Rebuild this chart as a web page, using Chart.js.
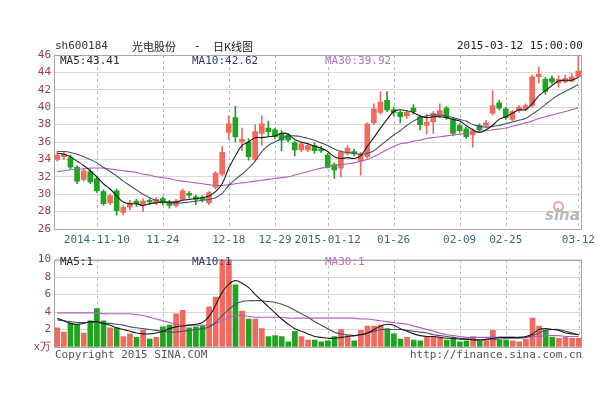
<!DOCTYPE html>
<html>
<head>
<meta charset="utf-8">
<script src="https://cdn.jsdelivr.net/npm/chart.js@4.4.1/dist/chart.umd.min.js"></script>
<style>
  html, body { margin: 0; padding: 0; background: #fff; }
  #wrap { position: relative; width: 600px; height: 400px; overflow: hidden; background: #fff; }
  canvas { position: absolute; left: 0; }
  .t { position: absolute; white-space: nowrap; font: 11px "DejaVu Sans Mono", monospace; line-height: 12px; color: #333; }
  .cjk { font-family: "Noto Sans CJK SC", sans-serif; font-size: 11px; }
</style>
</head>
<body>
<div id="wrap">
  <canvas id="kline" width="600" height="250" style="top:0"></canvas>
  <canvas id="vol" width="600" height="150" style="top:250px"></canvas>

  <div class="t" style="left:55px;top:40px;color:#333">sh600184</div>
  <div class="t cjk" style="left:132px;top:39px;color:#222;line-height:14px">光电股份</div>
  <div class="t" style="left:194px;top:40px;color:#222">-</div>
  <div class="t cjk" style="left:213px;top:39px;color:#222;line-height:14px">日K线图</div>
  <div class="t" style="left:457px;top:40px;color:#222">2015-03-12 15:00:00</div>

  <div class="t" id="lgP5"  style="left:60px;top:55px;color:#2a2a2a"></div>
  <div class="t" id="lgP10" style="left:192px;top:55px;color:#2b3d6b"></div>
  <div class="t" id="lgP30" style="left:325px;top:55px;color:#b070c4"></div>

  <div class="t" id="lgV5"  style="left:60px;top:256px;color:#2a2a2a"></div>
  <div class="t" id="lgV10" style="left:192px;top:256px;color:#2b3d6b"></div>
  <div class="t" id="lgV30" style="left:325px;top:256px;color:#b070c4"></div>

  <div class="t" style="left:55px;top:349px;color:#555">Copyright 2015 SINA.COM</div>
  <div class="t" style="left:410px;top:349px;color:#555">http://finance.sina.com.cn</div>

  <div style="position:absolute;left:553px;top:201px;width:7px;height:7px;border:2px solid #e3a998;border-radius:50%"></div>
  <div class="t" style="left:545px;top:207px;font:italic bold 15px 'DejaVu Sans',sans-serif;line-height:16px;color:#b9b9b9">sina</div>
</div>

<script>
// Trading days shown on the daily K-line (stock suspended 2014-12-08 .. 12-17)
const dates = [
  '2014-10-31','2014-11-03','2014-11-04','2014-11-05','2014-11-06','2014-11-07',
  '2014-11-10','2014-11-11','2014-11-12','2014-11-13','2014-11-14',
  '2014-11-17','2014-11-18','2014-11-19','2014-11-20','2014-11-21',
  '2014-11-24','2014-11-25','2014-11-26','2014-11-27','2014-11-28',
  '2014-12-01','2014-12-02','2014-12-03','2014-12-04','2014-12-05',
  '2014-12-18','2014-12-19','2014-12-22','2014-12-23','2014-12-24','2014-12-25','2014-12-26',
  '2014-12-29','2014-12-30','2014-12-31',
  '2015-01-05','2015-01-06','2015-01-07','2015-01-08','2015-01-09',
  '2015-01-12','2015-01-13','2015-01-14','2015-01-15','2015-01-16',
  '2015-01-19','2015-01-20','2015-01-21','2015-01-22','2015-01-23',
  '2015-01-26','2015-01-27','2015-01-28','2015-01-29','2015-01-30',
  '2015-02-02','2015-02-03','2015-02-04','2015-02-05','2015-02-06',
  '2015-02-09','2015-02-10','2015-02-11','2015-02-12','2015-02-13',
  '2015-02-16','2015-02-17','2015-02-25','2015-02-26','2015-02-27',
  '2015-03-02','2015-03-03','2015-03-04','2015-03-05','2015-03-06',
  '2015-03-09','2015-03-10','2015-03-11','2015-03-12'
];

// Dates that get an axis label, and the text printed for each
const tickDates = ['2014-11-10','2014-11-24','2014-12-18','2014-12-29','2015-01-12','2015-01-26','2015-02-09','2015-02-25','2015-03-12'];
const tickText  = ['2014-11-10','11-24','12-18','12-29','2015-01-12','01-26','02-09','02-25','03-12'];

const opens = [34.0,34.3,34.2,33.1,31.7,32.6,31.8,30.3,29.0,30.4, 27.9,28.5,29.2,28.8,29.3,29.0,29.5,29.1,28.7,29.4,
               30.1,29.7,29.6,29.0,30.8,32.3,37.1,38.8,36.0,36.0, 34.0,37.0,37.6,37.4,37.0,36.8,35.9,35.1,35.1,35.6,
               35.2,34.5,33.4,33.0,34.7,34.9,33.8,34.3,38.2,39.4, 40.8,39.7,39.4,39.0,39.9,38.9,37.9,38.3,39.0,39.9,
               38.6,37.9,37.5,36.8,37.9,37.9,39.3,40.5,39.8,38.6, 39.6,39.8,40.2,43.5,43.2,43.3,42.8,42.9,43.0,43.5];
const highs = [34.9,34.9,34.5,33.3,33.0,32.8,32.0,30.5,30.0,30.6, 28.7,29.3,29.4,29.5,29.5,29.6,29.7,29.3,29.4,30.6,
               30.3,29.9,29.8,30.3,32.6,35.5,39.0,40.1,37.6,36.4, 38.0,39.0,38.4,37.6,37.3,37.0,36.1,36.0,35.9,35.9,
               35.5,34.7,33.6,35.0,35.6,35.2,34.8,38.2,40.4,41.8, 41.8,40.0,39.6,39.6,40.3,39.1,39.2,39.5,40.4,40.1,
               38.8,38.1,37.7,37.5,38.1,38.5,41.9,40.8,40.0,39.6, 40.2,40.4,43.7,44.6,43.4,43.6,43.6,43.7,43.9,45.9];
const lows  = [33.8,34.0,32.9,31.2,31.5,31.2,30.2,28.7,28.8,27.6, 27.6,28.2,28.6,28.0,28.8,28.8,28.8,28.4,28.5,29.3,
               29.6,28.8,29.1,28.8,30.6,32.1,36.3,36.0,35.0,33.9, 33.8,35.6,36.6,36.4,35.0,36.0,34.4,34.9,34.9,34.7,
               34.8,33.0,31.8,32.0,34.5,34.4,32.2,34.1,38.0,39.2, 39.5,39.0,38.2,38.7,39.2,37.4,36.9,37.0,38.8,38.6,
               36.7,37.1,36.4,35.4,37.2,37.7,39.1,39.7,38.6,38.4, 39.4,39.6,40.0,42.8,41.5,42.7,42.3,42.8,42.9,43.4];
const closes = [34.5,34.6,33.1,31.5,32.7,31.4,30.4,28.9,29.8,28.1, 28.5,29.0,28.9,29.2,29.1,29.4,29.0,28.7,29.2,30.4,
               29.9,29.4,29.4,30.2,32.4,34.8,38.1,36.6,36.3,34.3, 37.2,38.1,37.2,36.6,36.2,36.2,35.1,35.8,35.6,35.0,
               35.0,33.1,32.8,34.8,35.3,34.7,34.6,38.1,39.8,40.6, 39.7,39.4,38.9,39.4,39.5,38.0,38.3,39.3,39.6,38.8,
               37.0,37.3,36.6,37.3,37.4,38.2,40.2,39.9,38.8,39.5, 40.0,40.2,43.5,43.8,41.8,42.9,43.2,43.3,43.5,44.15];

const ma5  = [34.7,34.6,34.3,33.8,33.3,32.7,32.0,31.2,30.6,29.8, 29.1,28.9,28.9,28.7,28.9,29.0,29.1,29.1,29.1,29.3,
              29.4,29.5,29.6,29.8,30.3,31.2,33.0,34.4,35.6,36.0, 36.5,36.5,36.6,36.7,37.0,36.9,36.3,36.0,35.8,35.5,
              35.3,34.9,34.3,34.1,34.2,34.1,34.4,35.5,36.5,37.6, 38.6,39.5,39.7,39.6,39.4,39.0,38.8,38.9,38.9,38.8,
              38.6,38.4,37.9,37.4,37.1,37.4,37.9,38.6,38.9,39.3, 39.7,39.7,40.4,41.3,41.9,42.5,43.0,43.1,43.1,43.41];
const ma10 = [34.9,34.9,34.8,34.6,34.3,34.0,33.6,33.1,32.6,32.1, 31.5,31.0,30.5,30.0,29.6,29.3,29.1,29.0,29.0,29.0,
              29.1,29.2,29.3,29.4,29.6,30.1,31.0,31.7,32.3,33.0, 33.8,34.9,35.6,36.0,36.4,36.7,36.7,36.6,36.4,36.2,
              35.9,35.6,35.2,34.9,34.8,34.7,34.6,34.7,35.0,35.6, 36.2,36.8,37.3,37.9,38.4,38.8,39.0,39.1,39.1,39.0,
              38.8,38.6,38.4,38.0,37.8,37.7,37.8,37.9,38.1,38.3, 38.5,38.7,39.2,39.7,40.3,40.9,41.4,41.8,42.2,42.62];
const ma30 = [32.6,32.7,32.8,32.9,32.9,33.0,33.0,33.0,32.9,32.8, 32.7,32.6,32.5,32.3,32.2,32.0,31.9,31.8,31.6,31.5,
              31.4,31.3,31.2,31.1,31.0,31.0,31.1,31.2,31.3,31.4, 31.5,31.6,31.7,31.8,31.9,32.0,32.2,32.4,32.6,32.8,
              33.0,33.1,33.3,33.4,33.5,33.6,33.8,34.0,34.3,34.7, 35.1,35.5,35.8,35.9,36.1,36.2,36.4,36.5,36.6,36.7,
              36.8,36.9,37.0,37.1,37.2,37.3,37.4,37.5,37.6,37.8, 38.0,38.2,38.4,38.7,38.9,39.1,39.3,39.5,39.7,39.92];

// Daily volume (x 万 lots) and its moving averages
const volume = [2.2,1.7,2.7,2.6,1.6,3.0,4.4,3.0,2.2,2.2, 1.2,1.5,1.1,1.9,0.9,1.1,2.3,2.5,3.8,4.2,
                2.2,2.3,2.4,4.6,5.7,10.8,11.5,7.1,4.1,3.2, 3.2,2.1,1.2,1.3,1.2,0.6,1.8,1.2,0.8,0.8,
                0.6,0.7,1.2,2.0,1.3,0.7,1.9,2.4,2.4,2.5, 2.1,1.5,0.9,1.1,0.8,0.7,1.2,1.2,1.1,0.8,
                1.0,0.6,0.7,1.2,0.7,0.7,1.9,0.8,0.8,0.7, 0.6,0.9,3.3,2.4,1.9,1.1,1.0,1.1,1.0,1.0];
const volMa5  = [3.3,3.0,2.7,2.6,2.7,2.9,2.9,2.7,2.5,2.2, 2.0,1.8,1.6,1.5,1.5,1.6,1.8,2.1,2.3,2.4,
                 2.5,2.6,2.8,3.5,4.8,6.3,7.2,7.6,7.3,6.8, 6.0,5.3,4.6,3.9,3.2,2.6,2.1,1.8,1.5,1.2,
                 1.1,1.0,1.0,1.1,1.2,1.3,1.4,1.6,2.0,2.4, 2.6,2.5,2.1,1.8,1.5,1.3,1.2,1.2,1.1,1.0,
                 1.0,0.9,0.9,0.8,0.8,0.9,1.0,1.1,1.1,1.1, 1.1,1.2,1.5,2.0,2.1,2.0,1.9,1.6,1.5,1.4];
const volMa10 = [3.1,3.0,2.9,2.8,2.8,2.8,2.8,2.7,2.7,2.6, 2.5,2.3,2.2,2.1,2.0,1.9,1.8,1.7,1.7,1.8,
                 1.9,2.0,2.1,2.3,2.8,3.6,4.3,4.9,5.2,5.3, 5.3,5.3,5.2,5.1,4.9,4.6,4.2,3.8,3.4,2.9,
                 2.5,2.1,1.7,1.5,1.4,1.3,1.4,1.6,1.8,2.0, 2.0,2.0,2.0,1.9,1.8,1.7,1.6,1.4,1.3,1.2,
                 1.1,1.0,0.9,0.9,0.8,0.8,0.9,0.9,1.0,1.0, 1.0,1.1,1.3,1.6,1.9,2.0,2.0,1.8,1.6,1.4];
const volMa30 = [3.9,3.9,3.9,3.9,3.9,3.9,3.9,3.8,3.8,3.8, 3.8,3.8,3.7,3.6,3.4,3.2,3.0,2.8,2.6,2.5,
                 2.5,2.5,2.5,2.5,2.7,3.0,3.4,3.6,3.6,3.5, 3.4,3.4,3.4,3.4,3.4,3.3,3.3,3.3,3.3,3.3,
                 3.3,3.3,3.3,3.3,3.3,3.3,3.2,3.2,3.1,3.0, 2.9,2.8,2.7,2.6,2.4,2.2,2.0,1.8,1.6,1.4,
                 1.3,1.2,1.1,1.1,1.1,1.1,1.1,1.1,1.1,1.1, 1.1,1.1,1.2,1.2,1.3,1.3,1.3,1.2,1.2,1.2];

const priceTicks = [26, 28, 30, 32, 34, 36, 38, 40, 42, 44, 46];
const volTicks = [0, 2, 4, 6, 8, 10];
const volUnit = 'x万';

// Colours
const UP = '#f06a60', DOWN = '#1ea41e';
const C_MA5 = '#1c1c1c', C_MA10 = '#46566e', C_MA30 = '#b061bb';
const GRID = '#dadada', VGRID = '#bdbdbd', FRAME = '#a8a8a8';
const MONO = '"DejaVu Sans Mono", monospace';

const barColors = dates.map((d, i) => closes[i] >= opens[i] ? UP : DOWN);
const tickIndex = new Map(tickDates.map((d, k) => [dates.indexOf(d), tickText[k]]));
const last = a => a[a.length - 1];

// Legends read their numbers from the same series that draw the lines
document.getElementById('lgP5').textContent  = 'MA5:'  + last(ma5).toFixed(2);
document.getElementById('lgP10').textContent = 'MA10:' + last(ma10).toFixed(2);
document.getElementById('lgP30').textContent = 'MA30:' + last(ma30).toFixed(2);
document.getElementById('lgV5').textContent  = 'MA5:'  + Math.round(last(volMa5));
document.getElementById('lgV10').textContent = 'MA10:' + Math.round(last(volMa10));
document.getElementById('lgV30').textContent = 'MA30:' + Math.round(last(volMa30));

// Plot frame plus dashed date lines, drawn under the marks
const framePlugin = {
  id: 'plotFrame',
  beforeDatasetsDraw(chart) {
    const { ctx, chartArea: a, scales } = chart;
    ctx.save();
    ctx.strokeStyle = VGRID;
    ctx.lineWidth = 1;
    ctx.setLineDash([3, 3]);
    tickIndex.forEach((txt, idx) => {
      const x = Math.round(scales.x.getPixelForValue(idx)) + 0.5;
      ctx.beginPath();
      ctx.moveTo(x, a.top);
      ctx.lineTo(x, a.bottom);
      ctx.stroke();
    });
    ctx.setLineDash([]);
    ctx.strokeStyle = FRAME;
    ctx.strokeRect(Math.round(a.left) + 0.5, Math.round(a.top) + 0.5,
                   Math.round(a.right - a.left) - 1, Math.round(a.bottom - a.top));
    ctx.restore();
  }
};

const lineDs = (label, data, color) => ({
  type: 'line', label, data, borderColor: color, borderWidth: 1.1,
  pointRadius: 0, tension: 0.35, fill: false, order: 0
});

const xScale = (showTicks, height) => ({
  type: 'category',
  offset: true,
  grid: { display: false, drawTicks: false },
  border: { display: false },
  ticks: {
    display: showTicks, autoSkip: false, maxRotation: 0, minRotation: 0, padding: 5,
    color: '#3b6a82', font: { family: MONO, size: 11 },
    callback: (v, i) => tickIndex.has(i) ? tickIndex.get(i) : ''
  },
  afterFit: s => { s.height = height; }
});

const yScale = (ticksArr, fmt) => ({
  min: ticksArr[0], max: ticksArr[ticksArr.length - 1],
  afterBuildTicks: s => { s.ticks = ticksArr.map(v => ({ value: v })); },
  grid: { color: GRID, drawTicks: false, lineWidth: 1 },
  border: { display: false },
  ticks: { padding: 3, color: '#9c4040', font: { family: MONO, size: 11 }, callback: fmt },
  afterFit: s => { s.width = 54; }
});

const common = {
  responsive: false, animation: false, devicePixelRatio: 1,
  plugins: { legend: { display: false }, tooltip: { enabled: false } }
};

// Daily candles: wick = [low, high], body = [open, close]
new Chart(document.getElementById('kline'), {
  type: 'bar',
  data: {
    labels: dates,
    datasets: [
      lineDs('MA5', ma5, C_MA5),
      lineDs('MA10', ma10, C_MA10),
      lineDs('MA30', ma30, C_MA30),
      { label: 'body', data: dates.map((d, i) => [opens[i], closes[i]]), backgroundColor: barColors,
        barThickness: 5, minBarLength: 1, grouped: false, order: 1 },
      { label: 'wick', data: dates.map((d, i) => [lows[i], highs[i]]), backgroundColor: barColors,
        barThickness: 1, grouped: false, order: 2 }
    ]
  },
  options: Object.assign({}, common, {
    layout: { padding: { left: 0, right: 18, top: 55, bottom: 0 } },
    scales: { x: xScale(true, 21), y: yScale(priceTicks, v => String(v)) }
  }),
  plugins: [framePlugin]
});

// Volume bars with their averages
new Chart(document.getElementById('vol'), {
  type: 'bar',
  data: {
    labels: dates,
    datasets: [
      lineDs('MA5', volMa5, C_MA5),
      lineDs('MA10', volMa10, C_MA10),
      lineDs('MA30', volMa30, C_MA30),
      { label: 'volume', data: volume, backgroundColor: barColors, barThickness: 5, grouped: false, order: 1 }
    ]
  },
  options: Object.assign({}, common, {
    layout: { padding: { left: 0, right: 18, top: 6, bottom: 0 } },
    scales: { x: xScale(false, 53), y: yScale(volTicks, v => v === 0 ? volUnit : String(v)) }
  }),
  plugins: [framePlugin]
});
</script>
</body>
</html>
